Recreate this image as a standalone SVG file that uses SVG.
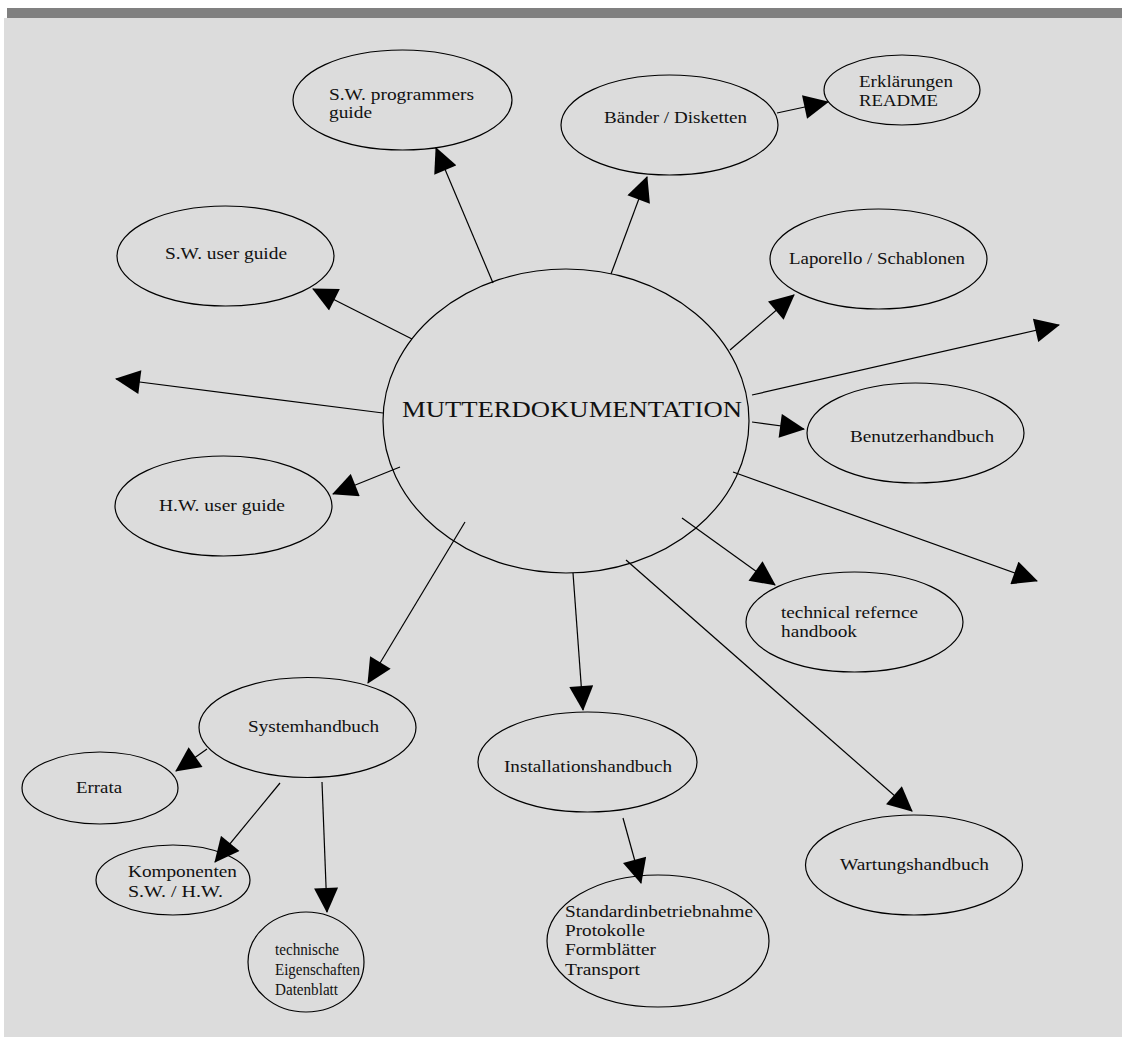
<svg xmlns="http://www.w3.org/2000/svg" width="1122" height="1037" viewBox="0 0 1122 1037">
  <defs>
    <style>
      .node ellipse { fill: #dcdcdc; stroke: #000; stroke-width: 1.2; }
      .node text { font-family: "Liberation Serif", "Times New Roman", serif; font-size: 17px; fill: #111; }
      .node text.big { font-size: 24px; }
      .node text.small { font-size: 16px; }
      .edges line { stroke: #000; stroke-width: 1.2; marker-end: url(#head); }
    </style>
    <marker id="head" markerUnits="userSpaceOnUse" markerWidth="26" markerHeight="24" viewBox="0 0 25 24" refX="24" refY="12" orient="auto">
      <path d="M0,0 L25,12 L0,24 Z" fill="#000"/>
    </marker>
  </defs>

  <!-- page -->
  <rect x="0" y="0" width="1122" height="1037" fill="#ffffff"/>
  <rect x="4" y="18" width="1118" height="1019" fill="#dcdcdc"/>
  <rect x="7" y="8" width="1115" height="10" fill="#808080"/>

  <!-- nodes -->
  <g id="mutterdokumentation" class="node">
    <ellipse cx="566" cy="421" rx="183" ry="152"/>
    <text class="big" x="402" y="417" textLength="340" lengthAdjust="spacingAndGlyphs">MUTTERDOKUMENTATION</text>
  </g>
  <g id="sw-programmers-guide" class="node">
    <ellipse cx="402.5" cy="100" rx="109.5" ry="50"/>
    <text x="329" y="100" textLength="145" lengthAdjust="spacingAndGlyphs">S.W. programmers</text>
    <text x="329" y="118" textLength="43" lengthAdjust="spacingAndGlyphs">guide</text>
  </g>
  <g id="baender-disketten" class="node">
    <ellipse cx="669.5" cy="125" rx="108.5" ry="50"/>
    <text x="604" y="123" textLength="143" lengthAdjust="spacingAndGlyphs">Bänder / Disketten</text>
  </g>
  <g id="erklaerungen-readme" class="node">
    <ellipse cx="902" cy="90" rx="78" ry="35"/>
    <text x="859" y="87" textLength="94" lengthAdjust="spacingAndGlyphs">Erklärungen</text>
    <text x="859" y="106" textLength="79" lengthAdjust="spacingAndGlyphs">README</text>
  </g>
  <g id="sw-user-guide" class="node">
    <ellipse cx="225.5" cy="256" rx="108.5" ry="50"/>
    <text x="165" y="259" textLength="122" lengthAdjust="spacingAndGlyphs">S.W. user guide</text>
  </g>
  <g id="hw-user-guide" class="node">
    <ellipse cx="223.5" cy="506" rx="108.5" ry="50"/>
    <text x="159" y="511" textLength="126" lengthAdjust="spacingAndGlyphs">H.W. user guide</text>
  </g>
  <g id="laporello-schablonen" class="node">
    <ellipse cx="878.5" cy="259" rx="108.5" ry="50"/>
    <text x="789" y="264" textLength="176" lengthAdjust="spacingAndGlyphs">Laporello / Schablonen</text>
  </g>
  <g id="benutzerhandbuch" class="node">
    <ellipse cx="915.5" cy="433" rx="108.5" ry="50"/>
    <text x="850" y="442" textLength="144" lengthAdjust="spacingAndGlyphs">Benutzerhandbuch</text>
  </g>
  <g id="technical-reference-handbook" class="node">
    <ellipse cx="854.5" cy="622" rx="108.5" ry="50"/>
    <text x="781" y="618" textLength="137" lengthAdjust="spacingAndGlyphs">technical refernce</text>
    <text x="781" y="637" textLength="76" lengthAdjust="spacingAndGlyphs">handbook</text>
  </g>
  <g id="systemhandbuch" class="node">
    <ellipse cx="307.5" cy="727.5" rx="108.5" ry="50"/>
    <text x="248" y="732" textLength="131" lengthAdjust="spacingAndGlyphs">Systemhandbuch</text>
  </g>
  <g id="errata" class="node">
    <ellipse cx="100" cy="788" rx="78" ry="36"/>
    <text x="76" y="793" textLength="46" lengthAdjust="spacingAndGlyphs">Errata</text>
  </g>
  <g id="installationshandbuch" class="node">
    <ellipse cx="587.5" cy="762" rx="109.5" ry="50"/>
    <text x="504" y="772" textLength="168" lengthAdjust="spacingAndGlyphs">Installationshandbuch</text>
  </g>
  <g id="wartungshandbuch" class="node">
    <ellipse cx="914" cy="865" rx="108.5" ry="50"/>
    <text x="840" y="870" textLength="149" lengthAdjust="spacingAndGlyphs">Wartungshandbuch</text>
  </g>
  <g id="komponenten" class="node">
    <ellipse cx="173" cy="880" rx="77" ry="35"/>
    <text x="128" y="877" textLength="109" lengthAdjust="spacingAndGlyphs">Komponenten</text>
    <text x="128" y="897" textLength="95" lengthAdjust="spacingAndGlyphs">S.W. / H.W.</text>
  </g>
  <g id="technische-eigenschaften" class="node">
    <ellipse cx="306" cy="962" rx="58" ry="50"/>
    <text class="small" x="275" y="955" textLength="64" lengthAdjust="spacingAndGlyphs">technische</text>
    <text class="small" x="275" y="975" textLength="85" lengthAdjust="spacingAndGlyphs">Eigenschaften</text>
    <text class="small" x="275" y="995" textLength="63" lengthAdjust="spacingAndGlyphs">Datenblatt</text>
  </g>
  <g id="standardinbetriebnahme" class="node">
    <ellipse cx="658" cy="941" rx="111" ry="66"/>
    <text x="565" y="917" textLength="188" lengthAdjust="spacingAndGlyphs">Standardinbetriebnahme</text>
    <text x="565" y="936" textLength="80" lengthAdjust="spacingAndGlyphs">Protokolle</text>
    <text x="565" y="955" textLength="91" lengthAdjust="spacingAndGlyphs">Formblätter</text>
    <text x="565" y="975" textLength="75" lengthAdjust="spacingAndGlyphs">Transport</text>
  </g>

  <!-- connectors -->
  <g id="edges" class="edges">
    <line x1="493" y1="283" x2="436" y2="148"/>
    <line x1="611" y1="274" x2="647" y2="177"/>
    <line x1="777" y1="113" x2="828" y2="102"/>
    <line x1="412" y1="339" x2="313" y2="289"/>
    <line x1="383" y1="413" x2="116" y2="379"/>
    <line x1="400" y1="467" x2="333" y2="494"/>
    <line x1="465" y1="522" x2="368" y2="683"/>
    <line x1="207" y1="749" x2="176" y2="771"/>
    <line x1="280" y1="783" x2="215" y2="862"/>
    <line x1="322" y1="782" x2="327" y2="912"/>
    <line x1="573" y1="573" x2="583" y2="710"/>
    <line x1="623" y1="818" x2="641" y2="883"/>
    <line x1="626" y1="560" x2="912" y2="811"/>
    <line x1="682" y1="518" x2="775" y2="585"/>
    <line x1="733" y1="472" x2="1037" y2="581"/>
    <line x1="752" y1="422" x2="804" y2="429"/>
    <line x1="752" y1="395" x2="1059" y2="325"/>
    <line x1="730" y1="350" x2="794" y2="295"/>
  </g>
</svg>
